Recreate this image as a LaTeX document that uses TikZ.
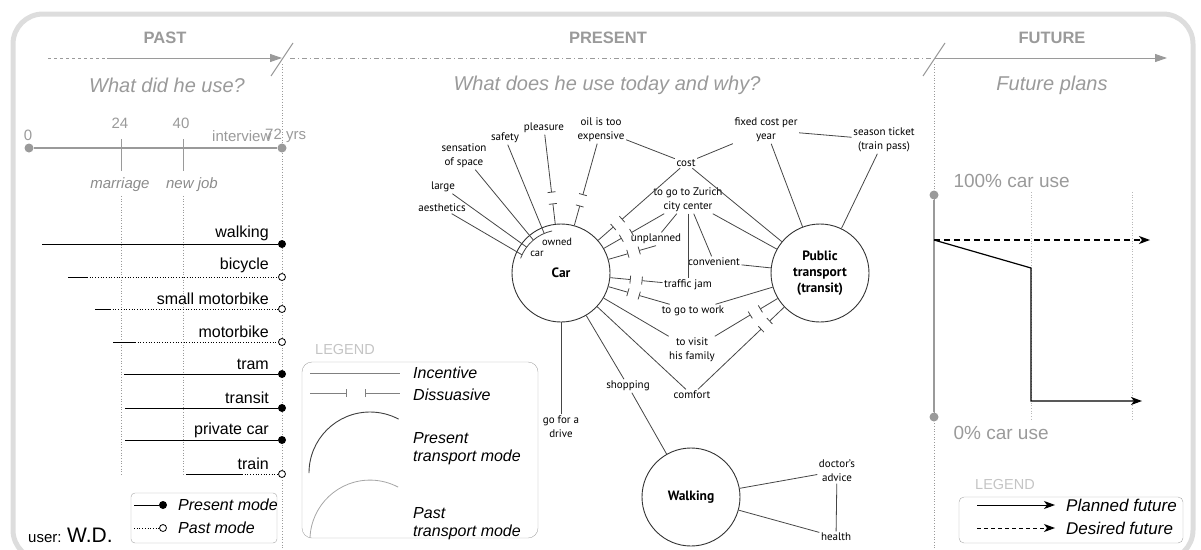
\documentclass[tikz,border=0pt]{standalone}
\usepackage{fontspec}
\setmainfont{Liberation Sans}
\newfontfamily\netfont{PT Sans}
\usetikzlibrary{calc, arrows.meta}

\definecolor{framegray}{HTML}{DDDDDD}
\definecolor{headgray}{HTML}{9A9A9A}
\definecolor{leggray}{HTML}{C4C4C4}
\definecolor{netgray}{HTML}{454545}

% dissuasive link: broken line with bars close to the transport mode
\newcommand{\dissuasive}[2]{%
  \draw[link, -{Bar[width=8pt]}] (#1) -- ($(#2)!81pt!(#1)$);
  \draw[link, {Bar[width=8pt]}-] ($(#2)!70pt!(#1)$) -- (#2);
}

\begin{document}
\begin{tikzpicture}[
    x = 1pt, y = -1pt,
    head/.style = {font=\fontsize{16.5}{20}\selectfont\bfseries, text=headgray},
    question/.style = {font=\fontsize{20}{24}\selectfont\itshape, text=headgray},
    axislabel/.style = {font=\fontsize{15}{18}\selectfont, text=headgray, inner sep=0pt},
    eventlabel/.style = {font=\fontsize{15}{18}\selectfont\itshape, text=headgray!90!black},
    modelabel/.style = {font=\fontsize{16}{19}\selectfont, anchor=east, inner sep=0pt},
    nowdot/.style = {circle, fill=black, inner sep=0pt, minimum size=8pt},
    pastdot/.style = {circle, draw=black, fill=white, line width=0.8pt, inner sep=0pt, minimum size=7pt},
    greydot/.style = {circle, fill=headgray, inner sep=0pt, minimum size=9pt},
    nowline/.style = {black, line width=1pt},
    pastline/.style = {black, line width=0.7pt, dotted},
    reason/.style = {font=\netfont\fontsize{11}{14}\selectfont, align=center, inner sep=1.5pt, text=black},
    transport/.style = {circle, draw=black!80, line width=0.9pt, minimum size=98pt, inner sep=0pt,
                        font=\netfont\bfseries\fontsize{13.5}{16}\selectfont, align=center},
    link/.style = {draw=netgray, line width=0.8pt},
    legtext/.style = {font=\fontsize{16}{18}\selectfont\itshape, anchor=west, align=left, inner sep=0pt},
    legtitle/.style = {font=\fontsize{14.5}{17}\selectfont, text=leggray},
    guide/.style = {headgray, line width=0.7pt, dotted}
  ]
  \useasboundingbox (0,0) rectangle (1201,549);

  % frame
  \draw[framegray, line width=5pt, rounded corners=30pt] (13,14) rectangle (1193,560);

  % time axis on top
  \node[head] (past) at (165,38) {PAST};
  \node[head] (present) at (608,38) {PRESENT};
  \node[head] (future) at (1052,38) {FUTURE};
  \coordinate (p0) at (48,58);
  \coordinate (p1) at (107,58);
  \coordinate (cut1) at (282,58);
  \coordinate (cut2) at (934,58);
  \coordinate (f1) at (1167,58);
  \draw[headgray, line width=1pt, dashed] (p0) -- (p1);
  \draw[headgray, line width=1pt, -{Triangle[length=12pt, width=8pt]}] (p1) -- (cut1);
  \draw[headgray, line width=1pt, dash pattern=on 5pt off 3pt on 1pt off 3pt] ($(cut1)+(8,0)$) -- ($(cut2)+(-3,0)$);
  \draw[headgray, line width=1pt, -{Triangle[length=12pt, width=8pt]}] (cut2) -- (f1);
  \draw[headgray, line width=1pt] ($(cut1)+(-11,18)$) -- ($(cut1)+(11,-15)$);
  \draw[headgray, line width=1pt] ($(cut2)+(-11,18)$) -- ($(cut2)+(11,-15)$);
  \draw[guide] (282,64) -- (282,549);
  \draw[guide] (934,64) -- (934,549);

  \node[question] (q1) at (167,85) {What did he use?};
  \node[question] (q2) at (607,85) {What does he use today and why?};
  \node[question] (q3) at (1052,85) {Future plans};

  % PAST: life line
  \node[greydot] (t0) at (29,148) {};
  \node[greydot] (t72) at (282,148) {};
  \draw[headgray, line width=1.5pt] (t0) -- (t72);
  \draw[headgray, line width=1pt] (121,139) -- (121,171);
  \draw[headgray, line width=1pt] (183,139) -- (183,171);
  \node[axislabel] (n0) at (28,135) {0};
  \node[axislabel] (n24) at (120,123) {24};
  \node[axislabel] (n40) at (181,123) {40};
  \node[axislabel, anchor=west] (interview) at (212,136) {interview};
  \node[axislabel, anchor=west] (n72) at (265,136) {72 yrs};
  \node[eventlabel] (marriage) at (120,185) {marriage};
  \node[eventlabel] (newjob) at (192,185) {new job};
  \draw[guide] (121,196) -- (121,476);
  \draw[guide] (183,196) -- (183,476);

  % PAST: transport modes
  \node[modelabel] (lwalk) at (269,233) {walking};
  \node[nowdot] (dwalk) at (282,244) {};
  \coordinate (swalk) at (42,244);
  \draw[nowline] (swalk) -- (dwalk);

  \node[modelabel] (lbike) at (269,265) {bicycle};
  \node[pastdot] (dbike) at (282,277) {};
  \coordinate (sbike) at (68,277);
  \coordinate (ebike) at (87,277);
  \draw[nowline] (sbike) -- (ebike);
  \draw[pastline] (ebike) -- (dbike);

  \node[modelabel] (lsmall) at (269,299) {small motorbike};
  \node[pastdot] (dsmall) at (282,309) {};
  \coordinate (ssmall) at (95,309);
  \coordinate (esmall) at (110,309);
  \draw[nowline] (ssmall) -- (esmall);
  \draw[pastline] (esmall) -- (dsmall);

  \node[modelabel] (lmoto) at (269,332) {motorbike};
  \node[pastdot] (dmoto) at (282,342) {};
  \coordinate (smoto) at (113,342);
  \coordinate (emoto) at (135,342);
  \draw[nowline] (smoto) -- (emoto);
  \draw[pastline] (emoto) -- (dmoto);

  \node[modelabel] (ltram) at (269,364) {tram};
  \node[nowdot] (dtram) at (282,374) {};
  \coordinate (stram) at (124,374);
  \draw[nowline] (stram) -- (dtram);

  \node[modelabel] (ltransit) at (269,398) {transit};
  \node[nowdot] (dtransit) at (282,408) {};
  \coordinate (stransit) at (125,408);
  \draw[nowline] (stransit) -- (dtransit);

  \node[modelabel] (lcar) at (269,430) {private car};
  \node[nowdot] (dcar) at (282,440) {};
  \coordinate (scar) at (125,440);
  \draw[nowline] (scar) -- (dcar);

  \node[modelabel] (ltrain) at (269,464) {train};
  \node[pastdot] (dtrain) at (282,474) {};
  \coordinate (strain) at (186,474);
  \coordinate (etrain) at (242,474);
  \draw[nowline] (strain) -- (etrain);
  \draw[pastline] (etrain) -- (dtrain);

  % PAST: legend
  \draw[black!35, rounded corners=4pt] (131,493) rectangle (277,543);
  \coordinate (lg1) at (134,505);
  \node[nowdot] (lgd1) at (163,505) {};
  \draw[nowline] (lg1) -- (lgd1);
  \node[legtext] (lgt1) at (178,505) {Present mode};
  \coordinate (lg2) at (134,528);
  \node[pastdot] (lgd2) at (163,528) {};
  \draw[pastline] (lg2) -- (lgd2);
  \node[legtext] (lgt2) at (178,528) {Past mode};

  \node[anchor=base west, inner sep=0pt] (user) at (28,542)
    {\fontsize{15}{18}\selectfont user: \fontsize{21}{24}\selectfont W.D.};

  % PRESENT: reasons
  \node[reason] (pleasure) at (544,128) {pleasure};
  \node[reason] (oil) at (601,130) {oil is too\\expensive};
  \node[reason] (safety) at (505,138) {safety};
  \node[reason] (space) at (464,156) {sensation\\of space};
  \node[reason] (large) at (443,187) {large};
  \node[reason] (aesthetics) at (442,208) {aesthetics};
  \node[reason] (cost) at (686,163) {cost};
  \node[reason] (fixed) at (766,130) {fixed cost per\\year};
  \node[reason] (season) at (884,140) {season ticket\\(train pass)};
  \node[reason] (zurich) at (688,200) {to go to Zurich\\city center};
  \node[reason] (unplanned) at (656,239) {unplanned};
  \node[reason] (convenient) at (714,262) {convenient};
  \node[reason] (jam) at (688,285) {traffic jam};
  \node[reason] (work) at (693,311) {to go to work};
  \node[reason] (family) at (692,350) {to visit\\his family};
  \node[reason] (shopping) at (628,386) {shopping};
  \node[reason] (comfort) at (692,395) {comfort};
  \node[reason] (drive) at (561,427) {go for a\\drive};
  \node[reason] (doctor) at (837,471) {doctor’s\\advice};
  \node[reason] (health) at (836,537) {health};

  % PRESENT: transport modes
  \node[transport] (car) at (561,273) {Car};
  \node[transport] (pt) at (820,273) {Public\\transport\\(transit)};
  \node[transport] (walk) at (691,497) {Walking};

  % owned car
  \node[reason, font=\netfont\fontsize{10.5}{12}\selectfont] (owned) at (557,242) {owned};
  \node[reason, font=\netfont\fontsize{10.5}{12}\selectfont] (ownedcar) at (537,254) {car};
  \draw[link] ($(car)+(200:43)$) arc[start angle=200, end angle=258, radius=43];
  \coordinate (oc1) at ($(car)+(205:43)$);
  \coordinate (oc2) at ($(car)+(217:43)$);
  \coordinate (oc3) at ($(car)+(230:43)$);
  \coordinate (oc4) at ($(car)+(247:43)$);
  \draw[link] (aesthetics) -- (oc1);
  \draw[link] (large) -- (oc2);
  \draw[link] (space) -- (oc3);
  \draw[link] (safety) -- (oc4);

  % incentives
  \draw[link] (oil) -- (cost);
  \draw[link] (cost) -- (fixed);
  \draw[link] (fixed) -- (season);
  \draw[link] (cost) -- (pt);
  \draw[link] (fixed) -- (pt);
  \draw[link] (season) -- (pt);
  \draw[link] (zurich) -- (pt);
  \draw[link] (zurich) -- (unplanned);
  \draw[link] (zurich) -- (jam);
  \draw[link] (zurich) -- (convenient);
  \draw[link] (convenient) -- (pt);
  \draw[link] (work) -- (pt);
  \draw[link] (family) -- (car);
  \draw[link] (comfort) -- (car);
  \draw[link] (shopping) -- (car);
  \draw[link] (shopping) -- (walk);
  \draw[link] (drive) -- (car);
  \draw[link] (walk) -- (doctor);
  \draw[link] (doctor) -- (health);
  \draw[link] (walk) -- (health);

  % dissuasives
  \dissuasive{pleasure}{car}
  \dissuasive{oil}{car}
  \dissuasive{cost}{car}
  \dissuasive{zurich}{car}
  \dissuasive{unplanned.south}{car}
  \dissuasive{jam}{car}
  \dissuasive{work}{car}
  \dissuasive{family}{pt}
  \dissuasive{comfort}{pt}

  % PRESENT: legend
  \node[legtitle] (legend1) at (345,350) {LEGEND};
  \draw[black!35, rounded corners=10pt] (302,362) rectangle (538,538);
  \draw[black!50, line width=0.8pt] (310,373) -- (400,373);
  \node[legtext] (inc) at (413,373) {Incentive};
  \draw[black!50, line width=0.8pt, -{Bar[width=8pt]}] (310,393) -- (347,393);
  \draw[black!50, line width=0.8pt, {Bar[width=8pt]}-] (365,393) -- (400,393);
  \node[legtext] (dis) at (413,395) {Dissuasive};
  \draw[black!75, line width=0.9pt] (309,473) arc[start angle=180, end angle=298, radius=61];
  \node[legtext] (prestext) at (413,449) {Present\\transport mode};
  \draw[black!35, line width=0.8pt] (310,538) arc[start angle=182, end angle=298, radius=60];
  \node[legtext] (pasttext) at (413,524) {Past\\transport mode};

  % FUTURE
  \node[greydot] (full) at (934,195) {};
  \node[greydot] (none) at (934,417) {};
  \draw[headgray, line width=1.5pt] (full) -- (none);
  \node[anchor=west, font=\fontsize{19}{22}\selectfont, text=headgray] (l100) at (950,181) {100\% car use};
  \node[anchor=west, font=\fontsize{19}{22}\selectfont, text=headgray] (l0) at (950,433) {0\% car use};
  \draw[guide, headgray!70] (1031,192) -- (1031,421);
  \draw[guide, headgray!70] (1132,192) -- (1132,421);
  \coordinate (now) at (934,240);
  \coordinate (desired) at (1150,240);
  \coordinate (step1) at (1031,268);
  \coordinate (step2) at (1031,401);
  \coordinate (planned) at (1142,401);
  \draw[black, line width=1.2pt, dash pattern=on 6pt off 4pt, -{Stealth[length=11pt, width=8pt, inset=3pt]}] (now) -- (desired);
  \draw[black, line width=1.2pt, -{Stealth[length=11pt, width=8pt, inset=3pt]}] (now) -- (step1) -- (step2) -- (planned);

  % FUTURE: legend
  \node[legtitle] (legend2) at (1005,484) {LEGEND};
  \draw[black!35, rounded corners=5pt] (959,497) rectangle (1183,543);
  \coordinate (fl1) at (977,505);
  \coordinate (fl2) at (1055,505);
  \draw[black, line width=1pt, -{Stealth[length=11pt, width=8pt, inset=3pt]}] (fl1) -- (fl2);
  \node[legtext, font=\fontsize{17}{19}\selectfont\itshape] (plan) at (1066,505) {Planned future};
  \coordinate (fl3) at (977,528);
  \coordinate (fl4) at (1055,528);
  \draw[black, line width=1pt, dash pattern=on 4pt off 3pt, -{Stealth[length=11pt, width=8pt, inset=3pt]}] (fl3) -- (fl4);
  \node[legtext, font=\fontsize{17}{19}\selectfont\itshape] (wish) at (1066,528) {Desired future};
\end{tikzpicture}
\end{document}
